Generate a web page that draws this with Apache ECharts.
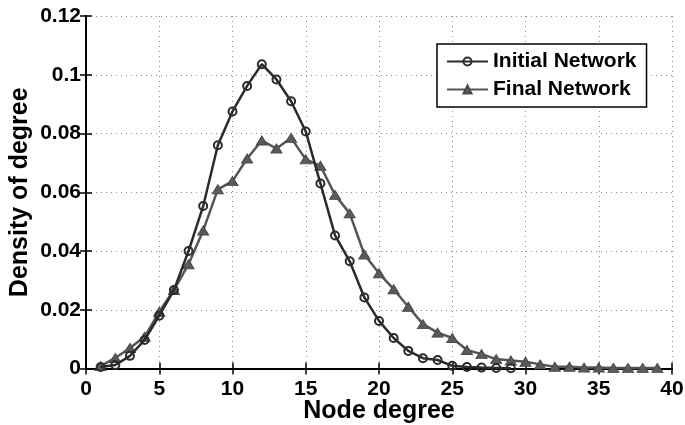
<!DOCTYPE html>
<html>
<head>
<meta charset="utf-8">
<script src="https://cdn.jsdelivr.net/npm/echarts@6/dist/echarts.min.js"></script>
<style>
  html, body { margin: 0; padding: 0; background: #fff; }
  #chart { width: 685px; height: 425px; }
</style>
</head>
<body>
<div id="chart"></div>
<script>
// Degree distribution of the network before and after evolution
var initialDegrees = [1, 2, 3, 4, 5, 6, 7, 8, 9, 10, 11, 12, 13, 14, 15, 16, 17, 18, 19, 20,
  21, 22, 23, 24, 25, 26, 27, 28, 29];
var initialDensity = [0.0005, 0.0012, 0.0043, 0.0097, 0.018, 0.0267, 0.040, 0.0553, 0.076, 0.0875,
  0.0962, 0.1036, 0.0984, 0.091, 0.0807, 0.063, 0.0453, 0.0365, 0.0242, 0.0162,
  0.0104, 0.006, 0.0035, 0.0029, 0.0009, 0.0005, 0.0003, 0.0002, 0.0001];

var finalDegrees = [1, 2, 3, 4, 5, 6, 7, 8, 9, 10, 11, 12, 13, 14, 15, 16, 17, 18, 19, 20,
  21, 22, 23, 24, 25, 26, 27, 28, 29, 30, 31, 32, 33, 34, 35, 36, 37, 38, 39];
var finalDensity = [0.0008, 0.0036, 0.007, 0.0108, 0.0193, 0.0267, 0.0355, 0.047, 0.061, 0.0638,
  0.0715, 0.0776, 0.0749, 0.0785, 0.0712, 0.069, 0.0591, 0.0528, 0.0388, 0.0324,
  0.027, 0.021, 0.0151, 0.0122, 0.0104, 0.0063, 0.0049, 0.0032, 0.0027, 0.0023,
  0.0014, 0.0006, 0.0006, 0.0003, 0.0003, 0.0002, 0.0002, 0.0002, 0.0002];

var xTickLabels = ['0', '5', '10', '15', '20', '25', '30', '35', '40'];
var yTickLabels = ['0', '0.02', '0.04', '0.06', '0.08', '0.1', '0.12'];

function pairs(xs, ys) {
  return xs.map(function (x, i) { return [x, ys[i]]; });
}

var FONT = 'Liberation Sans';
var tickFont = { fontFamily: FONT, fontWeight: 'bold', fontSize: 21, color: '#000' };
var titleFont = { fontFamily: FONT, fontWeight: 'bold', fontSize: 25, color: '#000' };
var gridLine = { show: true, lineStyle: { color: '#8c8c8c', type: [1, 4], width: 1 } };
var frameLine = { show: true, lineStyle: { color: '#000', width: 2 } };
var innerTick = { show: true, inside: true, length: 6, lineStyle: { color: '#000', width: 1.5 } };

var chart = echarts.init(document.getElementById('chart'), null, { renderer: 'canvas' });
chart.setOption({
  backgroundColor: '#fff',
  animation: false,
  grid: { left: 86, right: 13, top: 16, bottom: 56.5, containLabel: false, outerBoundsMode: 'none' },
  legend: {
    orient: 'vertical',
    left: 437,
    top: 44,
    padding: [7, 10, 7, 9],
    itemWidth: 41,
    itemHeight: 10,
    itemGap: 7,
    backgroundColor: '#fff',
    borderColor: '#000',
    borderWidth: 1.5,
    textStyle: { fontFamily: FONT, fontWeight: 'bold', fontSize: 21, color: '#000', lineHeight: 21 },
    data: ['Initial Network', 'Final Network']
  },
  xAxis: [{
    type: 'value',
    min: 0, max: 40, interval: 5,
    name: 'Node degree',
    nameLocation: 'middle',
    nameGap: 30,
    nameMoveOverlap: false,
    nameTextStyle: titleFont,
    axisLine: frameLine,
    axisTick: innerTick,
    axisLabel: Object.assign({ margin: 10, formatter: function (v) { return xTickLabels[Math.round(v / 5)]; } }, tickFont),
    splitLine: gridLine
  }, {
    type: 'value',
    position: 'top',
    min: 0, max: 40, interval: 5,
    axisLine: frameLine,
    axisTick: innerTick,
    axisLabel: { show: false },
    splitLine: { show: false }
  }],
  yAxis: [{
    type: 'value',
    min: 0, max: 0.12, interval: 0.02,
    name: 'Density of degree',
    nameLocation: 'middle',
    nameGap: 53,
    nameMoveOverlap: false,
    nameTextStyle: titleFont,
    axisLine: frameLine,
    axisTick: innerTick,
    axisLabel: Object.assign({ margin: 5, formatter: function (v) { return yTickLabels[Math.round(v / 0.02)]; } }, tickFont),
    splitLine: gridLine
  }, {
    type: 'value',
    position: 'right',
    min: 0, max: 0.12, interval: 0.02,
    axisLine: frameLine,
    axisTick: innerTick,
    axisLabel: { show: false },
    splitLine: { show: false }
  }],
  series: [{
    name: 'Initial Network',
    type: 'line',
    data: pairs(initialDegrees, initialDensity),
    symbol: 'circle',
    symbolSize: 8,
    lineStyle: { color: '#2b2b2b', width: 2.5 },
    itemStyle: { color: 'rgba(255,255,255,0)', borderColor: '#2b2b2b', borderWidth: 2 },
    z: 3
  }, {
    name: 'Final Network',
    type: 'line',
    data: pairs(finalDegrees, finalDensity),
    symbol: 'triangle',
    symbolSize: [11, 9],
    lineStyle: { color: '#555', width: 2.5 },
    itemStyle: { color: '#5a5a5a', borderColor: '#4a4a4a', borderWidth: 1 },
    z: 2
  }]
});
</script>
</body>
</html>
